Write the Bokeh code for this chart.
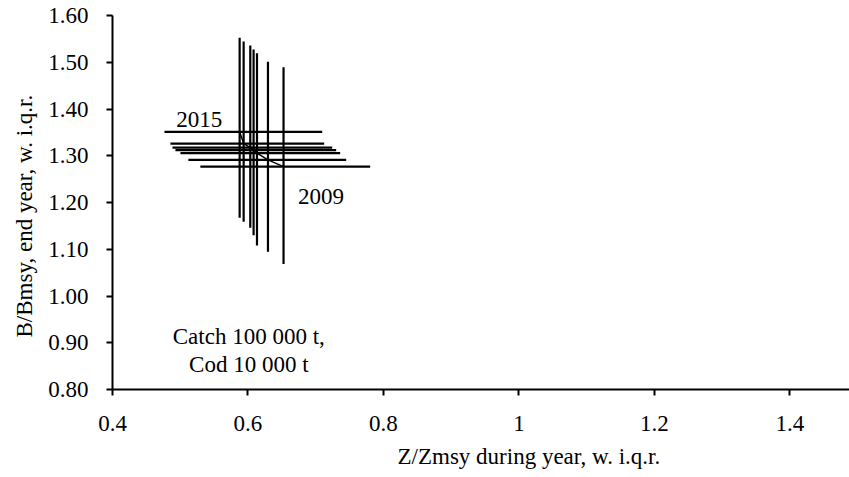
from bokeh.plotting import figure
from bokeh.models import Range1d, FixedTicker, Title, ColumnDataSource
from bokeh.core.properties import value
from bokeh.embed import file_html
from bokeh.resources import INLINE

# ---- data ----
years = [2009, 2010, 2011, 2012, 2013, 2014, 2015]
z_mid = [0.6525, 0.6295, 0.6133, 0.6083, 0.6034, 0.5936, 0.5877]
z_lo = [0.5297, 0.5120, 0.5003, 0.4929, 0.4885, 0.4855, 0.4767]
z_hi = [0.7804, 0.7450, 0.7361, 0.7302, 0.7243, 0.7125, 0.7096]
b_mid = [1.2769, 1.2912, 1.3055, 1.3120, 1.3175, 1.3261, 1.3512]
b_lo = [1.0687, 1.0945, 1.1082, 1.1297, 1.1460, 1.1588, 1.1674]
b_hi = [1.4891, 1.5013, 1.5191, 1.5271, 1.5357, 1.5442, 1.5522]

x_ticks = [0.4, 0.6, 0.8, 1.0, 1.2, 1.4]
x_tick_labels = ["0.4", "0.6", "0.8", "1", "1.2", "1.4"]
y_ticks = [0.8, 0.9, 1.0, 1.1, 1.2, 1.3, 1.4, 1.5, 1.6]
y_tick_labels = ["0.80", "0.90", "1.00", "1.10", "1.20", "1.30", "1.40", "1.50", "1.60"]

year_labels = ["2015", "2009"]
year_label_x = [0.528, 0.7077]
year_label_y = [1.3769, 1.2118]

note_lines = ["Catch 100 000 t,", "Cod 10 000 t"]
note_x = [0.6012, 0.6012]
note_y = [0.9137, 0.8536]

x_title = "Z/Zmsy during year, w. i.q.r."
y_title = "B/Bmsy, end year, w. i.q.r."

FONT = "Liberation Serif"
FS = "23px"

p = figure(width=849, height=477, output_backend="svg", toolbar_location=None,
           x_range=Range1d(0.4, 1.488), y_range=Range1d(0.8, 1.6),
           min_border_left=111, min_border_right=0, min_border_top=15,
           min_border_bottom=88)
p.outline_line_color = None
p.xgrid.grid_line_color = None
p.ygrid.grid_line_color = None
p.background_fill_color = "white"
p.border_fill_color = "white"

for ax in (p.xaxis[0], p.yaxis[0]):
    ax.axis_line_color = "black"
    ax.axis_line_width = 2
    ax.major_tick_line_color = "black"
    ax.major_tick_line_width = 2
    ax.major_tick_in = 0
    ax.major_tick_out = 6
    ax.minor_tick_line_color = None
    ax.major_label_text_font = FONT
    ax.major_label_text_font_size = FS
    ax.major_label_text_color = "black"

p.xaxis[0].ticker = FixedTicker(ticks=x_ticks)
p.xaxis[0].major_label_overrides = {t: l for t, l in zip(x_ticks, x_tick_labels)}
p.xaxis[0].major_label_standoff = 20
p.yaxis[0].ticker = FixedTicker(ticks=y_ticks)
p.yaxis[0].major_label_overrides = {t: l for t, l in zip(y_ticks, y_tick_labels)}
p.yaxis[0].major_label_standoff = 18

src = ColumnDataSource(dict(year=years, z_mid=z_mid, z_lo=z_lo, z_hi=z_hi,
                            b_mid=b_mid, b_lo=b_lo, b_hi=b_hi))

# horizontal i.q.r. bars
p.segment(x0="z_lo", y0="b_mid", x1="z_hi", y1="b_mid", source=src,
          line_color="black", line_width=2.2, line_cap="butt")
# vertical i.q.r. bars
p.segment(x0="z_mid", y0="b_lo", x1="z_mid", y1="b_hi", source=src,
          line_color="black", line_width=2.2, line_cap="butt")
# trajectory
p.line(x="z_mid", y="b_mid", source=src, line_color="black", line_width=1.4)

p.text(x=year_label_x, y=year_label_y, text=year_labels, text_font=value(FONT),
       text_font_size=FS, text_align="center", text_baseline="alphabetic",
       text_color="black")
p.text(x=note_x, y=note_y, text=note_lines, text_font=value(FONT),
       text_font_size=FS, text_align="center", text_baseline="alphabetic",
       text_color="black")

xt = Title(text=x_title, align="left", offset=285, text_font=FONT,
           text_font_size=FS, text_font_style="normal", text_color="black",
           standoff=16)
p.add_layout(xt, "below")

yt = Title(text=y_title, align="left", offset=52, text_font=FONT,
           text_font_size=FS, text_font_style="normal", text_color="black",
           standoff=18)
p.add_layout(yt, "left")

open("out.html", "w").write(file_html(p, INLINE))
